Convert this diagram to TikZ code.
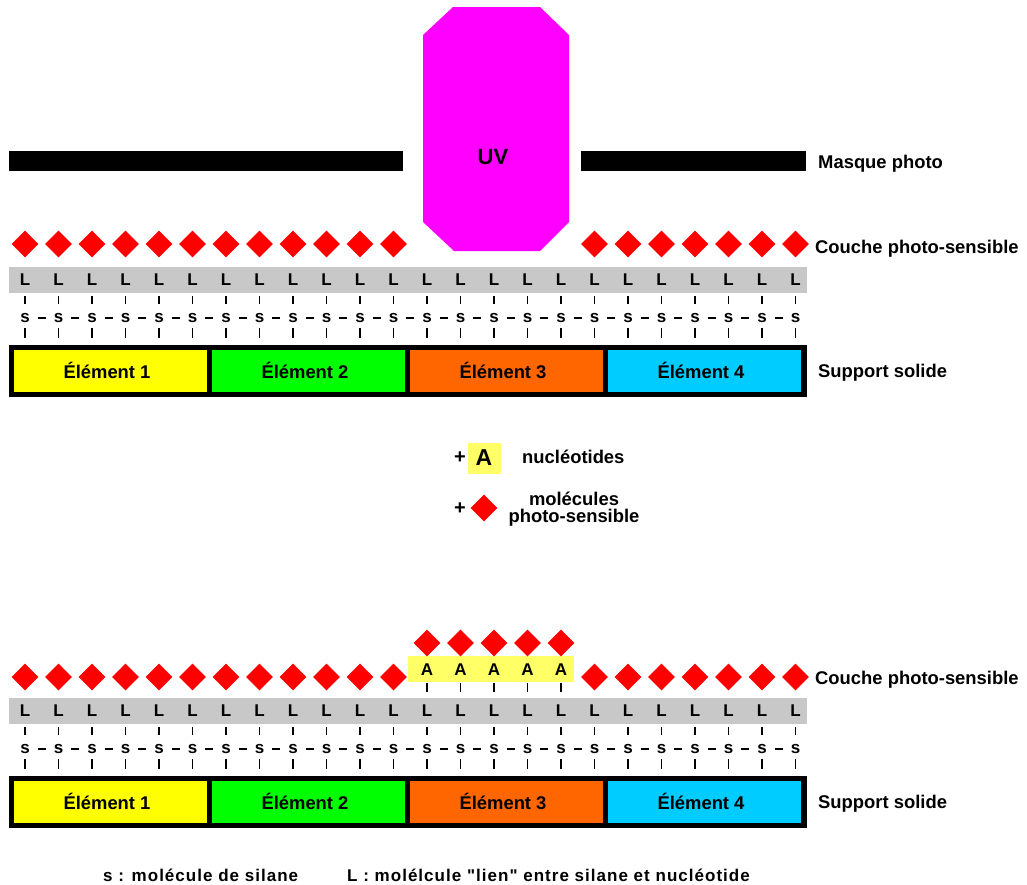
\documentclass[tikz,border=0pt]{standalone}
\usepackage{fontspec}
\setmainfont{Liberation Sans}
\usetikzlibrary{shapes.geometric}

\definecolor{uvmag}{RGB}{255,0,255}
\definecolor{photored}{RGB}{255,0,0}
\definecolor{linkgray}{RGB}{200,200,200}
\definecolor{elemyellow}{RGB}{255,255,0}
\definecolor{elemgreen}{RGB}{0,255,0}
\definecolor{elemorange}{RGB}{255,102,0}
\definecolor{elemcyan}{RGB}{0,204,255}
\definecolor{nucyellow}{RGB}{255,255,102}

\tikzset{
  photo/.style={diamond,aspect=1,fill=photored,inner sep=0pt,minimum size=27},
  lab/.style={font=\fontsize{18.4}{18}\selectfont\bfseries,inner sep=0pt,anchor=base west},
  elab/.style={font=\fontsize{18.4}{18}\selectfont\bfseries,inner sep=0pt,anchor=base},
  mol/.style={font=\fontsize{17}{17}\selectfont\bfseries,inner sep=0pt},
  cell/.style={draw=none,minimum width=193,minimum height=42,inner sep=0pt,anchor=north west},
  tick/.style={line width=1.6},
  foot/.style={font=\fontsize{17}{17}\selectfont\bfseries\addfontfeature{LetterSpace=6,Ligatures=TeXOff},inner sep=0pt,anchor=base west}
}

\begin{document}
\begin{tikzpicture}[x=1pt,y=-1pt]
\useasboundingbox (0,0) rectangle (1027,884);

% masque + UV
\fill (9,151) rectangle (403,171);
\fill (581,151) rectangle (806,171);
\fill[uvmag] (453,7) -- (540,7) -- (569,35) -- (569,222) -- (540,251) -- (454,251)
  -- (423,222) -- (423,35) -- cycle;
\node[font=\fontsize{22}{22}\selectfont\bfseries] (uv) at (493,157) {UV};
\node[lab] (masque) at (818,168) {Masque photo};

% silane, lien, support
\foreach \sec/\dy in {t/0,b/431}{
  \fill[linkgray] (9,267+\dy) rectangle (807,293+\dy);
  \foreach \i in {0,...,23}{
    \node[mol] (L\sec\i) at (25+33.5*\i,280+\dy) {L};
    \node[mol] (s\sec\i) at (25+33.5*\i,318+\dy) {s};
    \coordinate (b\sec\i) at (25+33.5*\i,345+\dy);
    \draw[tick,shorten <=16,shorten >=14] (L\sec\i.center) -- (s\sec\i.center);
    \draw[tick,shorten <=10,shorten >=7] (s\sec\i.center) -- (b\sec\i);
  }
  \foreach \i [evaluate=\i as \j using int(\i+1)] in {0,...,22}
    \draw[tick,shorten <=12.75,shorten >=12.75] (s\sec\i.center) -- (s\sec\j.center);
  \fill (9,345+\dy) rectangle (807,397+\dy);
  \foreach \c/\col [count=\k from 0] in {1/elemyellow,2/elemgreen,3/elemorange,4/elemcyan}{
    \node[cell,fill=\col] (e\sec\c) at (14+198*\k,350+\dy) {};
    \node[elab] (te\sec\c) at (107+198*\k,378+\dy) {Élément \c};
  }
  \node[lab] (couche\sec) at (815,253+\dy) {Couche photo-sensible};
  \node[lab] (support\sec) at (818,377+\dy) {Support solide};
}

% couche photo-sensible (haut)
\foreach \i in {0,...,23}{
  \ifnum\i<12 \node[photo] (pt\i) at (25+33.5*\i,244) {}; \fi
  \ifnum\i>16 \node[photo] (pt\i) at (25+33.5*\i,244) {}; \fi
}

% legende
\node[font=\fontsize{20}{20}\selectfont\bfseries] (plusA) at (460,458) {+};
\node[fill=nucyellow,minimum width=33,minimum height=31,inner sep=0pt,
  font=\fontsize{23}{23}\selectfont\bfseries] (nuc) at (484,458) {A};
\node[lab] (nuctxt) at (522,463) {nucléotides};
\node[font=\fontsize{20}{20}\selectfont\bfseries] (plusP) at (460,509) {+};
\node[photo] (pleg) at (484,508) {};
\node[lab,anchor=base] (moltxt) at (574,505) {molécules};
\node[lab,anchor=base] (phtxt) at (574,522) {photo-sensible};

% couche apres couplage (bas)
\fill[nucyellow] (408,656) rectangle (574,682);
\foreach \i in {0,...,23}{
  \ifnum\i<12 \node[photo] (pb\i) at (25+33.5*\i,677) {}; \fi
  \ifnum\i>16 \node[photo] (pb\i) at (25+33.5*\i,677) {}; \fi
}
\foreach \i in {12,...,16}{
  \node[mol] (A\i) at (25+33.5*\i,670) {A};
  \node[photo] (pa\i) at (25+33.5*\i,643) {};
  \draw[tick,shorten <=13,shorten >=19] (A\i.center) -- (Lb\i.center);
}

\node[foot] (notes) at (103,881) {s : molécule de silane};
\node[foot] (notel) at (347,881) {L : molélcule "lien" entre silane et nucléotide};
\end{tikzpicture}
\end{document}
